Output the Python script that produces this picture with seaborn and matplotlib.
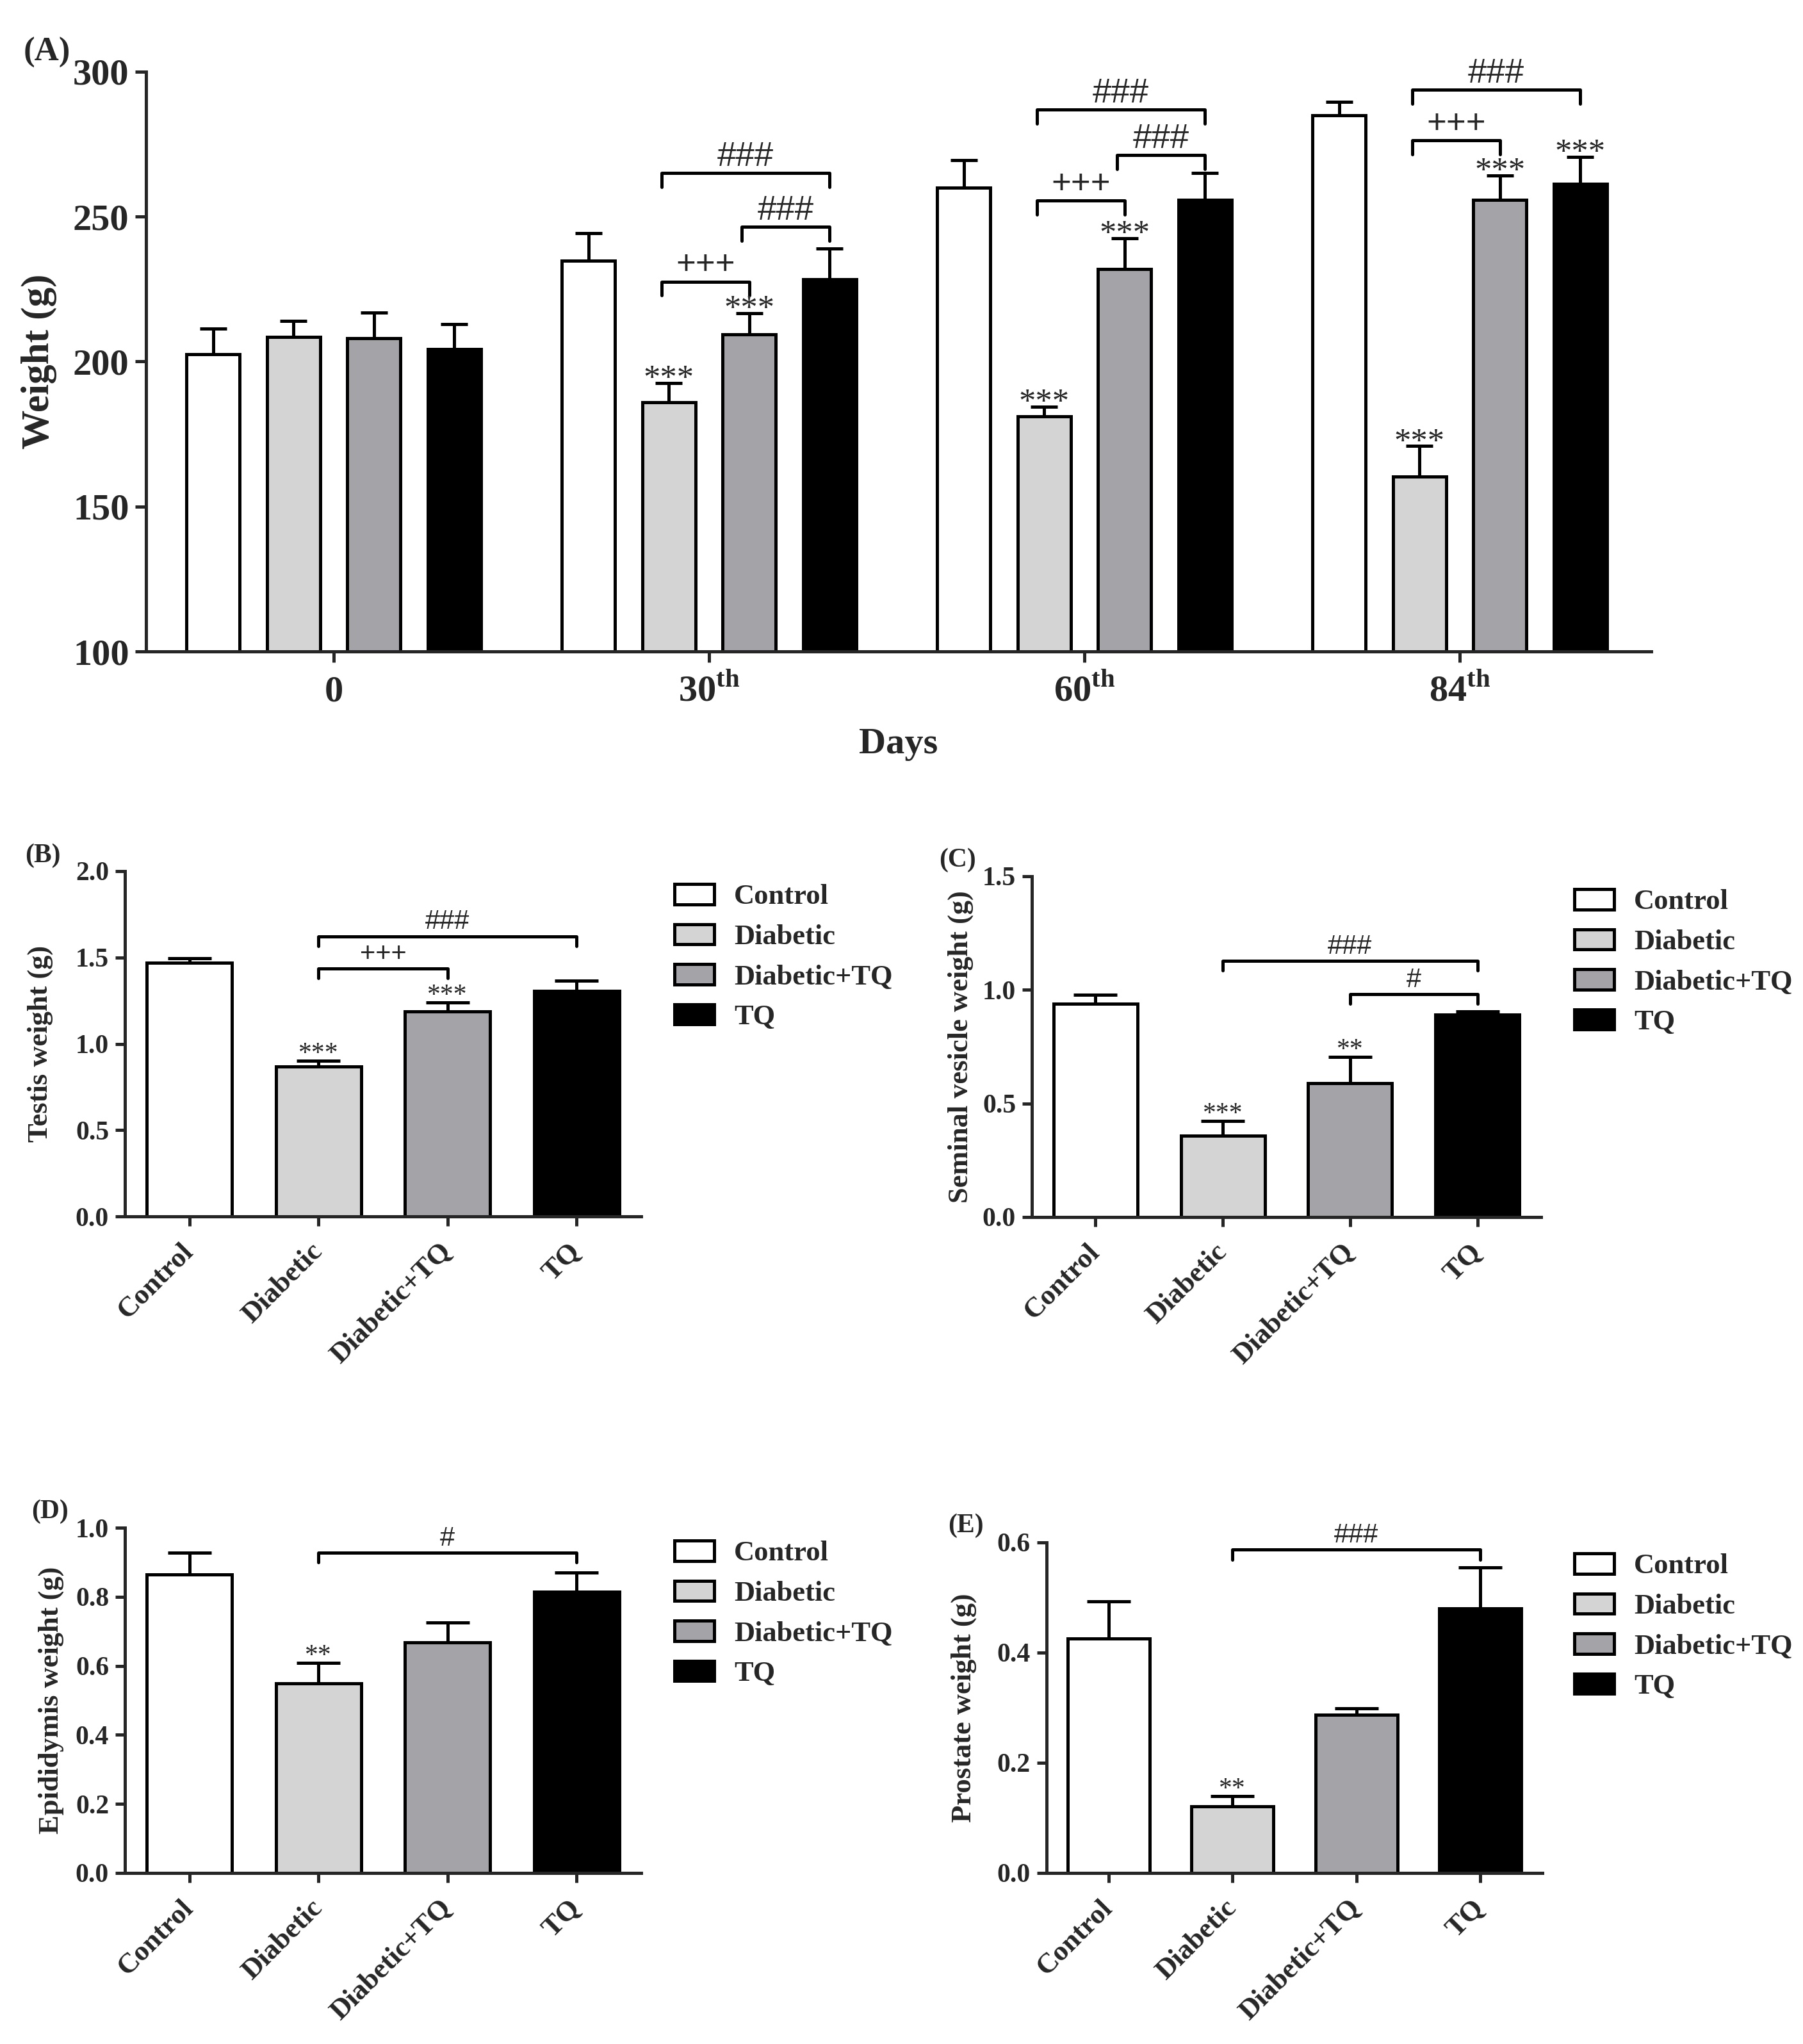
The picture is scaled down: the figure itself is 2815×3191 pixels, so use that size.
import numpy as np
import pandas as pd
import matplotlib
matplotlib.use("Agg")
import matplotlib.pyplot as plt
from matplotlib.patches import Patch
from matplotlib.ticker import FormatStrFormatter
import seaborn as sns

groups = ["Control", "Diabetic", "Diabetic+TQ", "TQ"]
group_colors = ["#ffffff", "#d4d4d4", "#a4a3a8", "#000000"]

# (A) body weight per day, one list per group
days = ["0", "30", "60", "84"]
day_labels = ["0", "30$^{\\mathbf{th}}$", "60$^{\\mathbf{th}}$", "84$^{\\mathbf{th}}$"]
weight_control = [202.5, 234.8, 260.1, 285.0]
weight_diabetic = [208.4, 186.0, 181.0, 160.4]
weight_diab_tq = [208.0, 209.4, 232.0, 255.9]
weight_tq = [204.2, 228.5, 255.9, 261.3]
sem_control = [8.8, 9.5, 9.4, 4.7]
sem_diabetic = [5.6, 6.6, 3.5, 10.5]
sem_diab_tq = [9.0, 7.3, 10.6, 8.4]
sem_tq = [8.8, 10.4, 9.1, 9.4]
stars_control = ["", "", "", ""]
stars_diabetic = ["", "***", "***", "***"]
stars_diab_tq = ["", "***", "***", "***"]
stars_tq = ["", "", "", "***"]
# (day, from group, to group, height, text)
weight_brackets = [(1, 1, 3, 265.0, "###"), (1, 2, 3, 246.5, "###"), (1, 1, 2, 227.6, "+++"),
                   (2, 1, 3, 287.0, "###"), (2, 2, 3, 271.2, "###"), (2, 1, 2, 255.6, "+++"),
                   (3, 1, 3, 293.8, "###"), (3, 1, 2, 276.4, "+++")]

# (B)-(E) organ weights
testis_mean = [1.471, 0.870, 1.186, 1.305]
testis_sem = [0.024, 0.032, 0.053, 0.060]
testis_stars = ["", "***", "***", ""]
testis_brackets = [(1, 3, 1.623, "###"), (1, 2, 1.435, "+++")]

vesicle_mean = [0.938, 0.358, 0.588, 0.892]
vesicle_sem = [0.039, 0.066, 0.118, 0.013]
vesicle_stars = ["", "***", "**", ""]
vesicle_brackets = [(1, 3, 1.128, "###"), (2, 3, 0.982, "#")]

epid_mean = [0.865, 0.549, 0.667, 0.815]
epid_sem = [0.063, 0.060, 0.059, 0.056]
epid_stars = ["", "**", "", ""]
epid_brackets = [(1, 3, 0.928, "#")]

prostate_mean = [0.426, 0.1215, 0.287, 0.480]
prostate_sem = [0.067, 0.0175, 0.012, 0.075]
prostate_stars = ["", "**", "", ""]
prostate_brackets = [(1, 3, 0.587, "###")]

W, H = 2815, 3191
DPI = 200
LW = 1.8

sns.set_style("ticks")
plt.rcParams['font.family'] = ['Liberation Serif', 'DejaVu Serif']
plt.rcParams['mathtext.fontset'] = 'custom'
plt.rcParams['mathtext.rm'] = 'Liberation Serif'
plt.rcParams['mathtext.bf'] = 'Liberation Serif:bold'
plt.rcParams['axes.linewidth'] = LW

fig = plt.figure(figsize=(W / DPI, H / DPI), dpi=DPI)


def rect(l, r, t, b):
    return [l / W, 1 - b / H, (r - l) / W, (b - t) / H]


def bar_centers(ax):
    bars = sorted(ax.patches, key=lambda p: p.get_x())
    return [(p.get_x() + p.get_width() / 2, p.get_height()) for p in bars]


def bracket(ax, x1, x2, y, tip, text, size):
    ax.plot([x1, x1, x2, x2], [y - tip, y, y, y - tip], color="black", lw=LW,
            solid_capstyle="round", solid_joinstyle="round", clip_on=False)
    ax.annotate(text, xy=((x1 + x2) / 2, y), xytext=(0, 4), textcoords="offset points",
                ha="center", va="baseline", fontsize=size,
                family=["Liberation Sans", "DejaVu Sans"])


def star(ax, x, y, text, size, off):
    if text:
        ax.annotate(text, xy=(x, y), xytext=(0, off), textcoords="offset points",
                    ha="center", va="baseline", fontsize=size)


# ---------------- (A) ----------------
axA = fig.add_axes(rect(228, 2578, 112, 1017))
df_w = pd.DataFrame({
    "day": days * 4,
    "group": np.repeat(groups, 4),
    "weight": weight_control + weight_diabetic + weight_diab_tq + weight_tq,
})
sns.barplot(data=df_w, x="day", y="weight", hue="group", hue_order=groups,
            palette=group_colors, saturation=1, width=0.857, gap=0.34,
            edgecolor="black", linewidth=LW, errorbar=None, legend=False, ax=axA)
sems = [sem_control, sem_diabetic, sem_diab_tq, sem_tq]
stars = [stars_control, stars_diabetic, stars_diab_tq, stars_tq]
centers = bar_centers(axA)
xs = np.array([c[0] for c in centers])
hs = np.array([c[1] for c in centers])
errs = np.array([sems[k % 4][k // 4] for k in range(16)])
axA.errorbar(xs, hs, yerr=[np.zeros(16), errs], fmt="none", ecolor="black",
             elinewidth=LW, capsize=7.6, capthick=LW, zorder=3)
for k in range(16):
    star(axA, xs[k], hs[k] + errs[k], stars[k % 4][k // 4], 19, -3)
for d, g1, g2, y, txt in weight_brackets:
    bracket(axA, xs[d * 4 + g1] - 0.02, xs[d * 4 + g2], y, 4.8, txt, 19)
axA.set_ylim(100, 300)
axA.set_xlim(-0.5, 3.51)
axA.set_yticks([100, 150, 200, 250, 300])
sns.despine(ax=axA)
axA.tick_params(width=LW, length=6, labelsize=21)
axA.tick_params(axis="x", pad=22)
axA.set_xticks(range(4))
axA.set_xticklabels(day_labels, fontweight="bold")
for lab in axA.get_xticklabels():
    lab.set_va("baseline")
for lab in axA.get_yticklabels():
    lab.set_fontweight("bold")
axA.set_ylabel("Weight (g)", fontsize=22, fontweight="bold")
axA.yaxis.set_label_coords(-0.059, 0.5)
axA.set_xlabel("Days", fontsize=21, fontweight="bold")
axA.xaxis.set_label_coords(0.5, -0.132)
fig.text(73 / W, 1 - 82 / H, "(A)", fontsize=19, fontweight="bold", ha="center", va="center")


# ---------------- (B)-(E) ----------------
def organ_panel(box, means, sems, stars, brackets, ymax, step, ylabel, lab_x,
                tag, tag_pos, leg_pos, tip):
    ax = fig.add_axes(rect(*box))
    sns.barplot(x=groups, y=means, hue=groups, palette=group_colors, saturation=1,
                width=0.66, edgecolor="black", linewidth=LW, errorbar=None,
                legend=False, ax=ax)
    cs = bar_centers(ax)
    bx = np.array([c[0] for c in cs])
    bh = np.array([c[1] for c in cs])
    ax.errorbar(bx, bh, yerr=[np.zeros(4), sems], fmt="none", ecolor="black",
                elinewidth=LW, capsize=12.3, capthick=LW, zorder=3)
    for k in range(4):
        star(ax, bx[k], bh[k] + sems[k], stars[k], 15, 0)
    for g1, g2, y, txt in brackets:
        bracket(ax, bx[g1], bx[g2], y, tip * ymax, txt, 15)
    ax.set_ylim(0, ymax)
    ax.set_xlim(-0.5, 3.5)
    ax.set_yticks(np.arange(0, ymax + step / 2, step))
    ax.yaxis.set_major_formatter(FormatStrFormatter("%.1f"))
    sns.despine(ax=ax)
    ax.tick_params(width=LW, length=5.5)
    ax.tick_params(axis="y", labelsize=15)
    ax.tick_params(axis="x", pad=12)
    for lab in ax.get_yticklabels():
        lab.set_fontweight("bold")
    ax.set_xticks(range(4))
    ax.set_xticklabels(groups, rotation=45, ha="right", va="center",
                       rotation_mode="anchor", fontsize=16, fontweight="bold")
    ax.set_ylabel(ylabel, fontsize=16, fontweight="bold")
    ax.yaxis.set_label_coords(lab_x, 0.5)
    fig.text(tag_pos[0] / W, 1 - tag_pos[1] / H, tag, fontsize=15,
             fontweight="bold", ha="center", va="center")
    handles = [Patch(facecolor=c, edgecolor="black", linewidth=LW) for c in group_colors]
    fig.legend(handles, groups, loc="upper left",
               bbox_to_anchor=(leg_pos[0] / W, 1 - leg_pos[1] / H),
               frameon=False, borderpad=0, borderaxespad=0, handlelength=1.4,
               handleheight=0.72, handletextpad=0.7, labelspacing=0.5,
               prop={"size": 16, "weight": "bold"})
    return ax


organ_panel((195, 1001, 1360, 1899), testis_mean, testis_sem, testis_stars,
            testis_brackets, 2.0, 0.5, "Testis weight (g)", -0.139,
            "(B)", (67, 1336), (1053, 1380), 0.028)
organ_panel((1611, 2406, 1368, 1900), vesicle_mean, vesicle_sem, vesicle_stars,
            vesicle_brackets, 1.5, 0.5, "Seminal vesicle weight (g)", -0.114,
            "(C)", (1495, 1343), (2458, 1388), 0.029)
organ_panel((195, 1001, 2385, 2924), epid_mean, epid_sem, epid_stars,
            epid_brackets, 1.0, 0.2, "Epididymis weight (g)", -0.118,
            "(D)", (78, 2360), (1053, 2405), 0.028)
organ_panel((1634, 2408, 2408, 2924), prostate_mean, prostate_sem, prostate_stars,
            prostate_brackets, 0.6, 0.2, "Prostate weight (g)", -0.141,
            "(E)", (1508, 2382), (2458, 2425), 0.031)

fig.savefig("out.png", dpi=DPI)
